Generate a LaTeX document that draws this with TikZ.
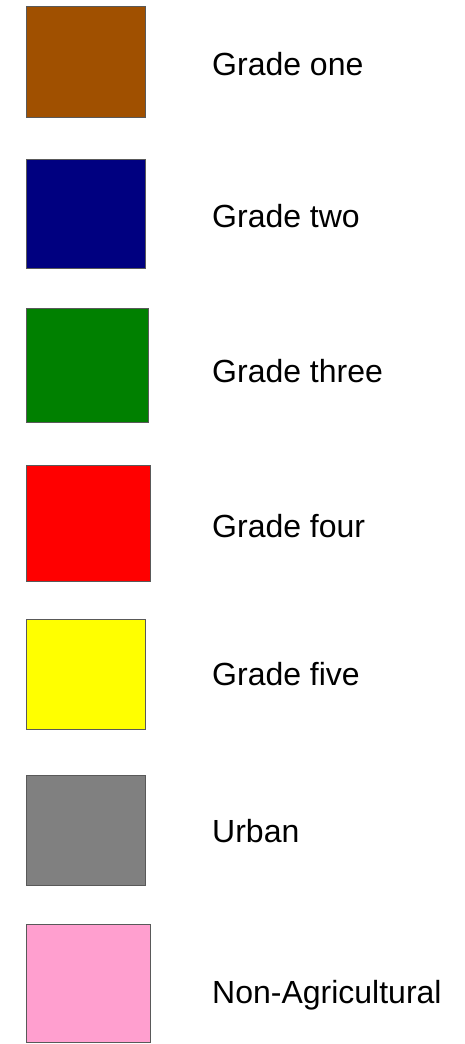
\documentclass[tikz,border=0pt]{standalone}
\usepackage{fontspec}
\setmainfont{Liberation Sans}
\usepackage{tikz}
\usetikzlibrary{positioning}

\definecolor{gradeone}{HTML}{A05000}
\definecolor{gradetwo}{HTML}{000080}
\definecolor{gradethree}{HTML}{008000}
\definecolor{gradefour}{HTML}{FF0000}
\definecolor{gradefive}{HTML}{FFFF00}
\definecolor{urban}{HTML}{808080}
\definecolor{nonagri}{HTML}{FF9FCF}

\begin{document}
\begin{tikzpicture}[
    x=1pt, y=-1pt,
    swatch/.style={
        rectangle, anchor=north west, inner sep=0pt,
        draw=black!65, line width=0.8pt
    },
    lbl/.style={anchor=base west, inner sep=0pt,
        font=\fontsize{32}{38}\selectfont},
]
\useasboundingbox (0,0) rectangle (465,1044);

%% ---- SWATCHES ----
\node[swatch, fill=gradeone,   minimum width=119pt, minimum height=111pt] (one)   at (26,6)   {};
\node[swatch, fill=gradetwo,   minimum width=119pt, minimum height=109pt] (two)   at (26,159) {};
\node[swatch, fill=gradethree, minimum width=122pt, minimum height=114pt] (three) at (26,308) {};
\node[swatch, fill=gradefour,  minimum width=124pt, minimum height=116pt] (four)  at (26,465) {};
\node[swatch, fill=gradefive,  minimum width=119pt, minimum height=110pt] (five)  at (26,619) {};
\node[swatch, fill=urban,      minimum width=119pt, minimum height=110pt] (urb)   at (26,775) {};
\node[swatch, fill=nonagri,    minimum width=124pt, minimum height=118pt] (nag)   at (26,924) {};

%% ---- LABELS ----
\node[lbl] (onelbl)   at (212,75)   {Grade one};
\node[lbl] (twolbl)   at (212,227)  {Grade two};
\node[lbl] (threelbl) at (212,382)  {Grade three};
\node[lbl] (fourlbl)  at (212,537)  {Grade four};
\node[lbl] (fivelbl)  at (212,685)  {Grade five};
\node[lbl] (urblbl)   at (212,842)  {Urban};
\node[lbl] (naglbl)   at (212,1003) {Non-Agricultural};

\end{tikzpicture}
\end{document}
